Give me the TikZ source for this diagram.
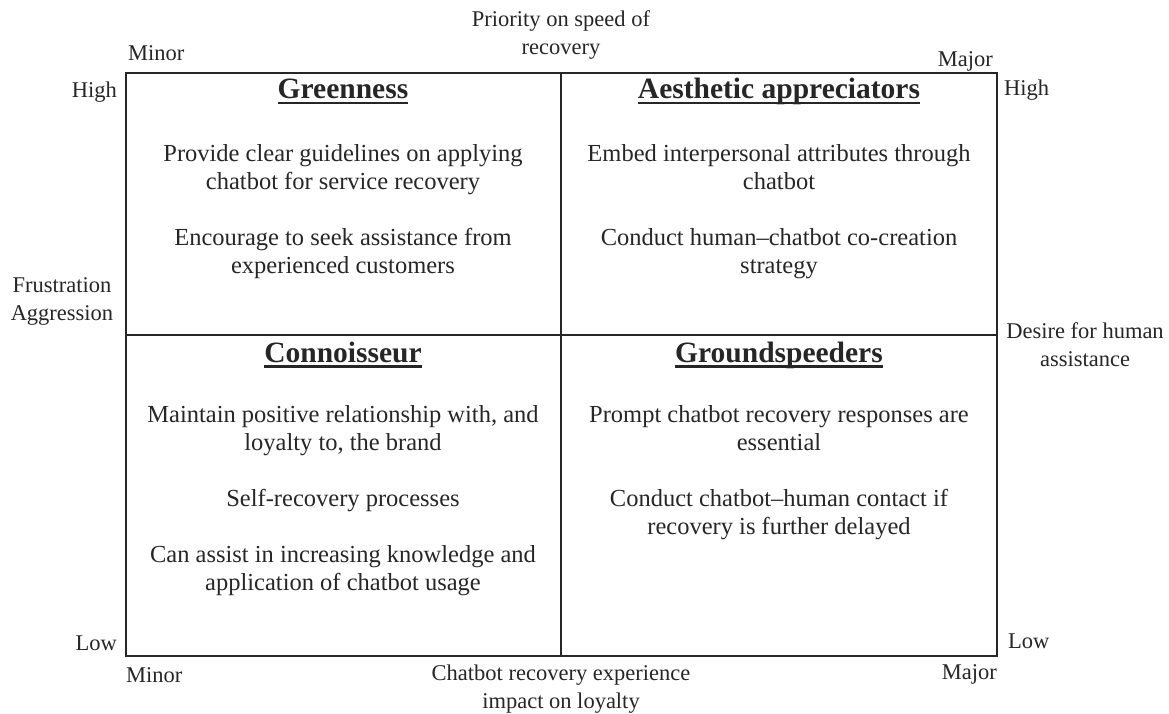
\documentclass[tikz,border=0pt]{standalone}
\usepackage{fontspec}
\setmainfont{Liberation Serif}
\usepackage{tikz}
\usetikzlibrary{positioning}

% heavy underline just below the baseline
\newcommand{\ultitle}[1]{\setbox0\hbox{#1}\rlap{\rule[-5.5pt]{\wd0}{2.3pt}}\box0}

\begin{document}
\begin{tikzpicture}[
    x=1pt, y=-1pt,
    grid/.style={line width=1.4pt, black!85},
    title/.style={font=\fontsize{29.5}{34}\selectfont\bfseries, text=black!85, inner sep=0pt, anchor=base},
    body/.style={font=\fontsize{24.5}{28}\selectfont, text=black!85, align=center, inner sep=0pt, anchor=north},
    axis/.style={font=\fontsize{22.5}{28}\selectfont, text=black!85, align=center, inner sep=0pt}
]
\useasboundingbox (0,0) rectangle (1169,714);

% Quadrant grid
\draw[grid] (126,73) rectangle (997,656);
\draw[grid] (561,73) -- (561,656);
\draw[grid] (126,335) -- (997,335);

% Quadrant titles
\node[title] (green) at (343,99) {\ultitle{Greenness}};
\node[title] (aesth) at (779,99) {\ultitle{Aesthetic appreciators}};
\node[title] (conn) at (343,362) {\ultitle{Connoisseur}};
\node[title] (ground) at (779,362) {\ultitle{Groundspeeders}};

% Quadrant contents
\node[body] (greentxt) at (343,144) {Provide clear guidelines on applying\\chatbot for service recovery\\[28pt]
    Encourage to seek assistance from\\experienced customers};
\node[body] (aesthtxt) at (779,144) {Embed interpersonal attributes through\\chatbot\\[28pt]
    Conduct human--chatbot co-creation\\strategy};
\node[body] (conntxt) at (343,405) {Maintain positive relationship with, and\\loyalty to, the brand\\[28pt]
    Self-recovery processes\\[28pt]
    Can assist in increasing knowledge and\\application of chatbot usage};
\node[body] (groundtxt) at (779,405) {Prompt chatbot recovery responses are\\essential\\[28pt]
    Conduct chatbot--human contact if\\recovery is further delayed};

% Axis labels
\node[axis] (speed) at (561,35) {Priority on speed of\\recovery};
\node[axis, anchor=west] (minortop) at (128,53) {Minor};
\node[axis, anchor=east] (majortop) at (993,61) {Major};
\node[axis, anchor=east] (highleft) at (117,92) {High};
\node[axis, anchor=west] (highright) at (1004,90) {High};
\node[axis] (frust) at (62,301) {Frustration\\Aggression};
\node[axis] (desire) at (1085,345) {Desire for human\\assistance};
\node[axis, anchor=east] (lowleft) at (117,643) {Low};
\node[axis, anchor=west] (lowright) at (1008,641) {Low};
\node[axis, anchor=west] (minorbot) at (126,675) {Minor};
\node[axis, anchor=east] (majorbot) at (997,674) {Major};
\node[axis] (impact) at (561,689) {Chatbot recovery experience\\impact on loyalty};

\end{tikzpicture}
\end{document}
